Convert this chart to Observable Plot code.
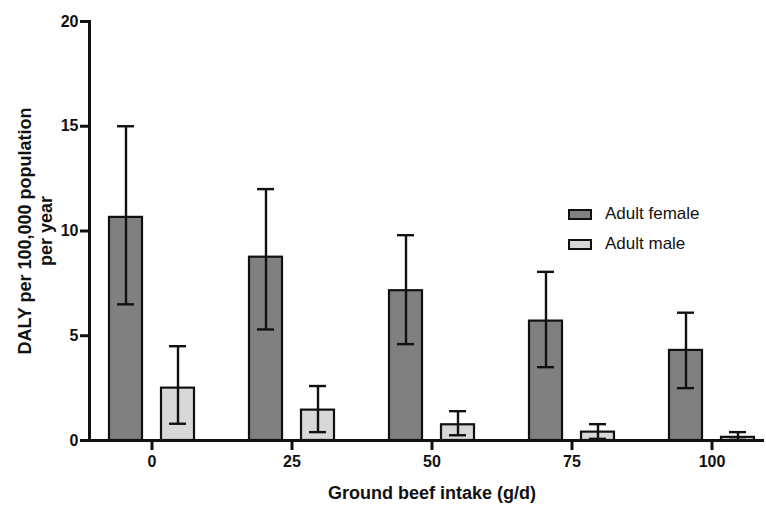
<!DOCTYPE html>
<html>
<head>
<meta charset="utf-8">
<script src="https://cdn.jsdelivr.net/npm/d3@7"></script>
<script src="https://cdn.jsdelivr.net/npm/@observablehq/plot@0.6"></script>
<style>
  html, body { margin: 0; padding: 0; background: #fff; }
  #wrap { position: relative; width: 766px; height: 506px; font-family: "Liberation Sans", Arial, sans-serif; }
  #legend { position: absolute; left: 568px; top: 199px; font-size: 17px; color: #111; }
  .row { display: flex; align-items: center; height: 30px; }
  .sw { width: 20px; height: 7px; border: 2px solid #111; margin-right: 13px; }
</style>
</head>
<body>
<div id="wrap"></div>
<script>
const intake = ["0", "25", "50", "75", "100"];
const seriesNames = ["Adult female", "Adult male"];
const seriesColors = ["#808080", "#d8d8d8"];
const femaleMean = [10.65, 8.75, 7.15, 5.7, 4.3];
const femaleLow  = [6.5, 5.3, 4.6, 3.5, 2.5];
const femaleHigh = [15.0, 12.0, 9.8, 8.05, 6.1];
const maleMean = [2.5, 1.45, 0.75, 0.4, 0.15];
const maleLow  = [0.8, 0.4, 0.25, 0.08, 0.03];
const maleHigh = [4.5, 2.6, 1.4, 0.78, 0.4];
const yTicks = [0, 5, 10, 15, 20];
const xTitle = "Ground beef intake (g/d)";
const yTitle = "DALY per 100,000 population\nper year";

const female = intake.map((g, i) => ({g, v: femaleMean[i], lo: femaleLow[i], hi: femaleHigh[i]}));
const male = intake.map((g, i) => ({g, v: maleMean[i], lo: maleLow[i], hi: maleHigh[i]}));

const font = "Liberation Sans, Arial, sans-serif";
const W = 766, H = 506;

function series(data, fill, dx) {
  return [
    Plot.barY(data, {x: "g", y: "v", fill, stroke: "#111", strokeWidth: 2.2, dx}),
    Plot.ruleX(data, {x: "g", y1: "lo", y2: "hi", stroke: "#111", strokeWidth: 2.4, dx}),
    Plot.tickY(data, {x: "g", y: "hi", stroke: "#111", strokeWidth: 2.4, dx, insetLeft: 8, insetRight: 8}),
    Plot.tickY(data, {x: "g", y: "lo", stroke: "#111", strokeWidth: 2.4, dx, insetLeft: 8, insetRight: 8})
  ];
}

const chart = Plot.plot({
  width: W,
  height: H,
  marginLeft: 89,
  marginRight: 4,
  marginTop: 21,
  marginBottom: 66,
  style: {fontFamily: font, background: "#fff", color: "#111"},
  x: {type: "band", domain: intake, range: [79.6, 783.4], paddingInner: 0.7655, paddingOuter: 0.38275, label: null},
  y: {domain: [0, 20], label: null},
  marks: [
    ...series(female, seriesColors[0], -26),
    ...series(male, seriesColors[1], 26),
    Plot.frame({anchor: "left", stroke: "#111", strokeWidth: 3}),
    Plot.frame({anchor: "bottom", stroke: "#111", strokeWidth: 3}),
    Plot.axisX({tickSize: 10, tickPadding: 5, strokeWidth: 3, fontSize: 16, fontWeight: "bold", label: null}),
    Plot.axisY({ticks: yTicks, tickSize: 9, tickPadding: 2, strokeWidth: 3, fontSize: 16, fontWeight: "bold", label: null}),
    Plot.text([xTitle], {frameAnchor: "bottom", text: d => d, dy: 53, dx: 6, lineAnchor: "middle", fontSize: 18, fontWeight: "bold"}),
    Plot.text([yTitle], {frameAnchor: "left", text: d => d, dx: -55, rotate: -90, lineAnchor: "middle", textAnchor: "middle", fontSize: 18, fontWeight: "bold", lineHeight: 1.2})
  ]
});

const wrap = document.getElementById("wrap");
wrap.appendChild(chart);
const legend = document.createElement("div");
legend.id = "legend";
seriesNames.forEach((name, i) => {
  const row = document.createElement("div");
  row.className = "row";
  const sw = document.createElement("div");
  sw.className = "sw";
  sw.style.background = seriesColors[i];
  const t = document.createElement("span");
  t.textContent = name;
  row.appendChild(sw);
  row.appendChild(t);
  legend.appendChild(row);
});
wrap.appendChild(legend);
</script>
</body>
</html>
